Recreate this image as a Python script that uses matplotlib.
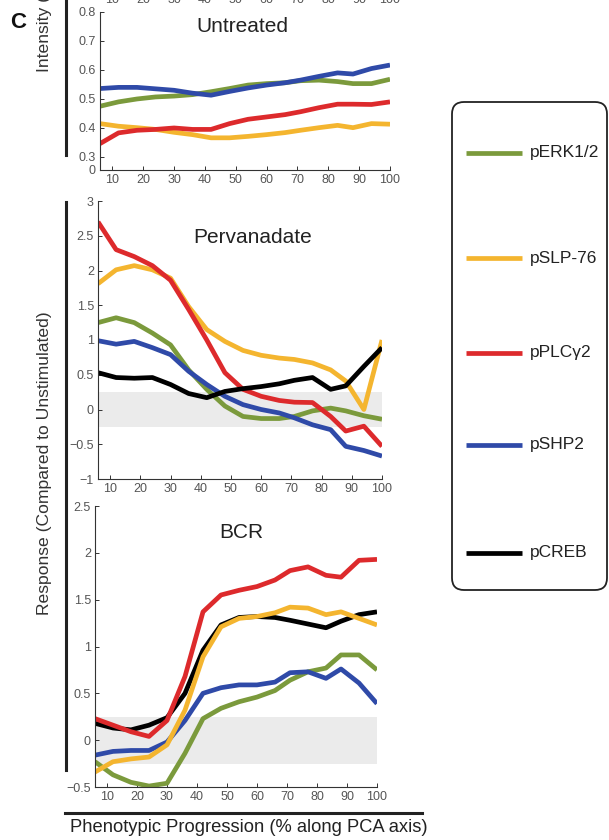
import matplotlib
matplotlib.use("Agg")
import matplotlib.pyplot as plt
from matplotlib.patches import FancyBboxPatch
from matplotlib.lines import Line2D

plt.rcParams["font.family"] = ["Liberation Sans", "DejaVu Sans"]

# ── Data ──────────────────────────────────────────────────────────────────
X = [6, 12, 18, 24, 30, 36, 42, 48, 54, 60, 66, 71, 77, 83, 88, 94, 100]

NAMES  = ["pERK1/2", "pSLP-76", "pPLCγ2", "pSHP2", "pCREB"]
COLORS = ["#7b9a3c", "#f4b52f", "#dd2a2c", "#2f4aa8", "#000000"]

# Untreated (intensity)
untr_erk  = [0.475, 0.49, 0.50, 0.507, 0.51, 0.515, 0.525, 0.536, 0.548, 0.553, 0.556, 0.563, 0.565, 0.56, 0.553, 0.553, 0.568]
untr_slp  = [0.415, 0.406, 0.401, 0.395, 0.385, 0.377, 0.366, 0.366, 0.371, 0.377, 0.384, 0.392, 0.401, 0.409, 0.401, 0.415, 0.413]
untr_plc  = [0.346, 0.383, 0.392, 0.395, 0.40, 0.395, 0.395, 0.415, 0.43, 0.438, 0.446, 0.456, 0.47, 0.482, 0.482, 0.481, 0.49]
untr_shp  = [0.536, 0.54, 0.54, 0.535, 0.53, 0.52, 0.513, 0.526, 0.538, 0.548, 0.556, 0.565, 0.578, 0.59, 0.586, 0.605, 0.617]

# Pervanadate (response)
perv_erk  = [1.25, 1.32, 1.25, 1.10, 0.93, 0.57, 0.29, 0.05, -0.10, -0.13, -0.13, -0.10, -0.02, 0.02, -0.02, -0.09, -0.14]
perv_slp  = [1.81, 2.01, 2.07, 2.01, 1.89, 1.48, 1.15, 0.98, 0.85, 0.78, 0.74, 0.72, 0.67, 0.57, 0.41, 0.0, 1.0]
perv_plc  = [2.70, 2.30, 2.20, 2.07, 1.86, 1.44, 1.00, 0.53, 0.29, 0.19, 0.13, 0.105, 0.10, -0.10, -0.31, -0.24, -0.53]
perv_shp  = [0.99, 0.94, 0.98, 0.89, 0.79, 0.55, 0.36, 0.19, 0.07, 0.0, -0.05, -0.12, -0.22, -0.29, -0.53, -0.59, -0.67]
perv_creb = [0.53, 0.46, 0.45, 0.46, 0.36, 0.23, 0.17, 0.26, 0.30, 0.33, 0.37, 0.42, 0.46, 0.29, 0.34, 0.62, 0.89]

# BCR (response)
bcr_erk  = [-0.23, -0.37, -0.45, -0.49, -0.46, -0.14, 0.23, 0.34, 0.41, 0.46, 0.53, 0.64, 0.73, 0.77, 0.91, 0.91, 0.75]
bcr_slp  = [-0.34, -0.23, -0.20, -0.18, -0.05, 0.32, 0.89, 1.21, 1.30, 1.32, 1.36, 1.42, 1.41, 1.34, 1.37, 1.30, 1.23]
bcr_plc  = [0.23, 0.16, 0.09, 0.04, 0.21, 0.68, 1.37, 1.55, 1.60, 1.64, 1.71, 1.81, 1.85, 1.76, 1.74, 1.92, 1.93]
bcr_shp  = [-0.16, -0.12, -0.11, -0.11, -0.02, 0.21, 0.50, 0.56, 0.59, 0.59, 0.62, 0.72, 0.73, 0.66, 0.76, 0.61, 0.39]
bcr_creb = [0.18, 0.13, 0.11, 0.16, 0.24, 0.50, 0.96, 1.23, 1.31, 1.32, 1.31, 1.28, 1.24, 1.20, 1.27, 1.34, 1.37]

XTICKS = [10, 20, 30, 40, 50, 60, 70, 80, 90, 100]

W, H = 609, 840
TICK = "#555555"
SPINE = "#333333"
LW = 3.4


def px_axes(fig, x0, y0, x1, y1):
    # pixel box (top-left origin) -> figure axes
    return fig.add_axes([x0 / W, 1 - y1 / H, (x1 - x0) / W, (y1 - y0) / H])


def style_ax(ax, ylim, yticks, ylabels):
    ax.set_xlim(6, 100)
    ax.set_ylim(*ylim)
    ax.set_xticks(XTICKS)
    ax.set_yticks(yticks)
    ax.set_yticklabels(ylabels)
    for s in ["top", "right"]:
        ax.spines[s].set_visible(False)
    for s in ["left", "bottom"]:
        ax.spines[s].set_color(SPINE)
        ax.spines[s].set_linewidth(0.8)
    ax.tick_params(direction="in", length=3, width=0.7, colors=SPINE,
                   labelcolor=TICK, labelsize=9, pad=3)


fig = plt.figure(figsize=(W / 100, H / 100), dpi=100, facecolor="white")

# 1 — Untreated
ax1 = px_axes(fig, 100, 12, 390, 170)
for y, c in zip([untr_erk, untr_slp, untr_plc, untr_shp], COLORS):
    ax1.plot(X, y, color=c, lw=LW, solid_capstyle="butt")
style_ax(ax1, (0.255, 0.8), [0.255, 0.3, 0.4, 0.5, 0.6, 0.7, 0.8],
         ["0", "0.3", "0.4", "0.5", "0.6", "0.7", "0.8"])
ax1.text(0.49, 0.91, "Untreated", transform=ax1.transAxes, ha="center",
         va="center", fontsize=15, color="#222222")

# 2 — Pervanadate
ax2 = px_axes(fig, 98, 201, 382, 479)
ax2.axhspan(-0.25, 0.25, color="#ebebeb", lw=0, zorder=0)
perv = [perv_erk, perv_slp, perv_plc, perv_shp, perv_creb]
for i in [0, 3, 1, 2, 4]:
    ax2.plot(X, perv[i], color=COLORS[i], lw=LW, solid_capstyle="butt")
style_ax(ax2, (-1, 3), [-1, -0.5, 0, 0.5, 1, 1.5, 2, 2.5, 3],
         ["\u22121", "\u22120.5", "0", "0.5", "1", "1.5", "2", "2.5", "3"])
ax2.text(0.546, 0.867, "Pervanadate", transform=ax2.transAxes, ha="center",
         va="center", fontsize=15, color="#222222")

# 3 — BCR
ax3 = px_axes(fig, 95, 506, 377, 787)
ax3.axhspan(-0.25, 0.25, color="#ebebeb", lw=0, zorder=0)
bcr = [bcr_erk, bcr_slp, bcr_plc, bcr_shp, bcr_creb]
for i in [4, 0, 3, 2, 1]:
    ax3.plot(X, bcr[i], color=COLORS[i], lw=LW, solid_capstyle="butt")
style_ax(ax3, (-0.5, 2.5), [-0.5, 0, 0.5, 1, 1.5, 2, 2.5],
         ["\u22120.5", "0", "0.5", "1", "1.5", "2", "2.5"])
ax3.text(0.52, 0.904, "BCR", transform=ax3.transAxes, ha="center",
         va="center", fontsize=15, color="#222222")

# tick labels of the panel above, cut by the top edge
ax0 = fig.add_axes([100 / W, 1.012, 290 / W, 0.05])
ax0.set_xlim(6, 100)
ax0.set_xticks(XTICKS)
ax0.set_yticks([])
for s in ax0.spines.values():
    s.set_visible(False)
ax0.tick_params(length=0, labelcolor=TICK, labelsize=9, pad=3)

# axis brackets and labels
fig.add_artist(Line2D([66 / W, 66 / W], [1, 1 - 155 / H], color="#222222", lw=2.2))
fig.add_artist(Line2D([66 / W, 66 / W], [1 - 202 / H, 1 - 770 / H], color="#222222", lw=2.2))
fig.add_artist(Line2D([65 / W, 422 / W], [1 - 813 / H, 1 - 813 / H], color="#222222", lw=2.2))

fig.text(45 / W, 1 - 72 / H, "Intensity (a.u.)", rotation=90, ha="center",
         va="bottom", fontsize=12.6, color="#333333")
fig.text(45 / W, 1 - 463 / H, "Response (Compared to Unstimulated)", rotation=90,
         ha="center", va="center", fontsize=12.6, color="#333333")
fig.text(249 / W, 1 - 828 / H, "Phenotypic Progression (% along PCA axis)",
         ha="center", va="center", fontsize=13.2, color="#222222")
fig.text(18 / W, 1 - 22 / H, "C", ha="center", va="center", fontsize=16,
         fontweight="bold", color="#111111")

# legend box
axl = px_axes(fig, 450, 100, 609, 592)
axl.set_xlim(0, 159)
axl.set_ylim(0, 492)
axl.axis("off")
axl.add_patch(FancyBboxPatch((2, 2), 155, 488, boxstyle="round,pad=0,rounding_size=12",
                             fc="white", ec="#222222", lw=1.3))
entry_y = [439, 334, 239, 147, 39]
for name, c, yy in zip(NAMES, COLORS, entry_y):
    axl.plot([16, 72], [yy, yy], color=c, lw=LW, solid_capstyle="butt")
    axl.text(80, yy, name, ha="left", va="center", fontsize=12.5, color="#222222")

plt.savefig("out.png", dpi=100, facecolor="white")
